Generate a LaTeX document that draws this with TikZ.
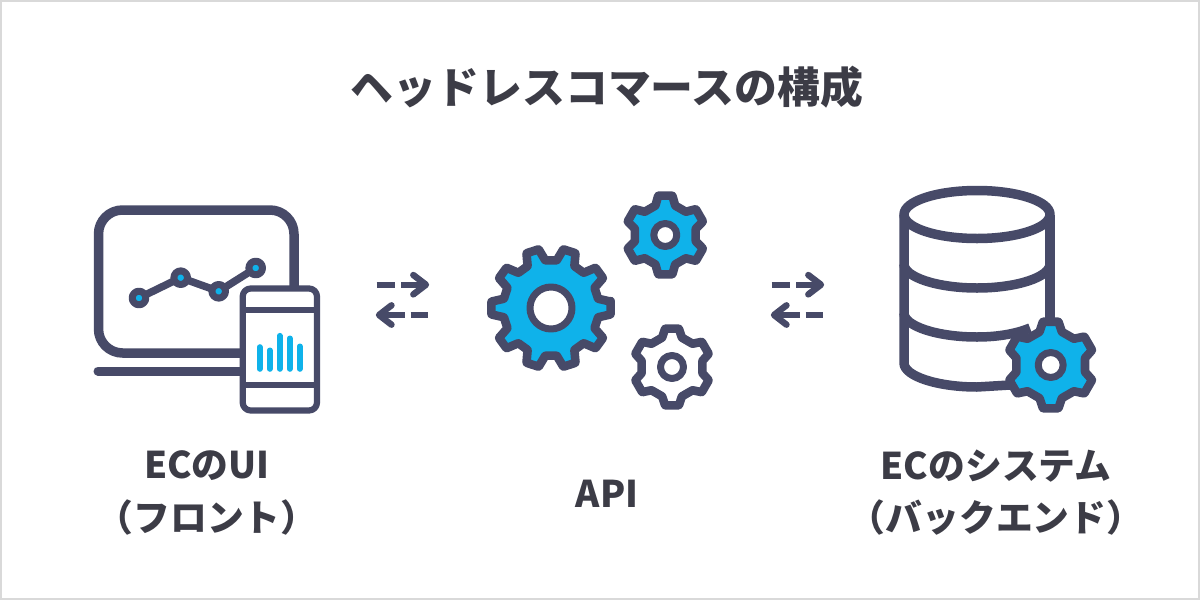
\documentclass[tikz,border=0pt]{standalone}
\usepackage{fontspec}
\newfontfamily\cjk{Noto Sans CJK JP}
\definecolor{icondark}{HTML}{474A68}
\definecolor{iconblue}{HTML}{0FB2EA}
\definecolor{textdark}{HTML}{3C3C46}
\tikzset{
  icon/.style={draw=icondark,line join=round},
  bar/.style={draw=iconblue,line width=5.6pt,line cap=round},
  label/.style={font=\cjk\bfseries\fontsize{36.8}{36.8}\selectfont,text=textdark,inner sep=0pt},
  dashpart/.style={draw=icondark,line width=6pt},
  headpart/.style={draw=icondark,line width=6.4pt,line cap=round,line join=round},
}
% centre x, centre y, teeth, first tooth, outer r, root r, hole r, fill
\newcommand{\drawgear}[8]{
  \begin{scope}[shift={(#1,#2)}]
    \pgfmathsetmacro{\gstep}{360/#3}
    \pgfmathsetmacro{\gtip}{0.17*\gstep}
    \pgfmathsetmacro{\groot}{0.31*\gstep}
    \pgfmathtruncatemacro{\glast}{#3-1}
    \draw[icon,line width=8.6pt,fill=#8,rounded corners=0.5pt] ({#4-\gtip}:#5)
      \foreach \k in {0,...,\glast}{
        -- ({#4+\k*\gstep+\gtip}:#5) -- ({#4+\k*\gstep+\groot}:#6)
        -- ({#4+(\k+1)*\gstep-\groot}:#6) -- ({#4+(\k+1)*\gstep-\gtip}:#5)
      } -- cycle;
    \draw[icon,line width=7pt,fill=white] (0,0) circle (#7);
  \end{scope}
}
\begin{document}
\begin{tikzpicture}[x=1pt,y=-1pt]
  \useasboundingbox (0,0) rectangle (1200,600);
  \fill[white] (0,0) rectangle (1200,600);
  \draw[draw=black!15,line width=2pt] (1,1) rectangle (1199,599);
  % Textos
  \node[label,font=\cjk\bfseries\fontsize{42.9}{42.9}\selectfont] (title) at (607,87) {ヘッドレスコマースの構成};
  \node[label] (frontname) at (207,466) {ECのUI};
  \node[label] (frontsub) at (207,518) {（フロント）};
  \node[label] (apiname) at (607,494) {API};
  \node[label] (backname) at (996,466) {ECのシステム};
  \node[label] (backsub) at (996,518) {（バックエンド）};
  % Pantalla
  \draw[icon,line width=9.5pt,rounded corners=24pt] (98.5,210) rectangle (294,353);
  \draw[icon,line width=9pt,line cap=round] (98,371) -- (243,371);
  \draw[icon,line width=7.5pt] (139,298) -- (180.7,277.7) -- (218.7,291.3) -- (255.7,268);
  \foreach \px/\py in {139/298,180.7/277.7,218.7/291.3,255.7/268}
    \draw[icon,line width=7pt,fill=iconblue] (\px,\py) circle (6.8);
  % Movil
  \draw[icon,line width=6.2pt,fill=white,rounded corners=8pt] (242.7,288.5) rectangle (317,410.5);
  \draw[icon,line width=6.2pt] (242.7,310) -- (317,310);
  \draw[icon,line width=6.2pt] (242.7,385.3) -- (317,385.3);
  \foreach \bx/\by in {259.7/347,269.7/350.3,279.7/335.7,289.7/338.3,299.7/346.3}
    \draw[bar] (\bx,\by) -- (\bx,369);
  % Flechas
  \foreach \dx in {0,395}{
    \draw[dashpart] (376.7+\dx,284.7) -- (395+\dx,284.7);
    \draw[dashpart] (401+\dx,284.7) -- (425+\dx,284.7);
    \draw[headpart] (413.3+\dx,275) -- (426+\dx,284.7) -- (413.3+\dx,294.4);
    \draw[dashpart] (380+\dx,315) -- (405+\dx,315);
    \draw[dashpart] (410.7+\dx,315) -- (428.3+\dx,315);
    \draw[headpart] (391.5+\dx,305.3) -- (379+\dx,315) -- (391.5+\dx,324.7);
  }
  % Engranajes
  \drawgear{551}{308}{10}{0}{60}{48}{21}{iconblue}
  \drawgear{665.3}{235}{6}{90}{40}{31}{11.5}{iconblue}
  \drawgear{672}{367}{6}{90}{39}{31}{11.5}{white}
  % Base de datos
  \draw[icon,line width=9.5pt] (977,214.5) ellipse [x radius=73,y radius=24];
  \draw[icon,line width=9.5pt] (904,214.5) -- (904,363) .. controls (904,376) and (937,387) .. (977,387) -- (1010,385);
  \draw[icon,line width=9.5pt] (1050,214.5) -- (1050,325);
  \draw[icon,line width=9.5pt] (904,264) .. controls (904,277) and (937,288) .. (977,288) .. controls (1017,288) and (1050,277) .. (1050,264);
  \draw[icon,line width=9.5pt] (904,313) .. controls (904,326) and (937,337) .. (977,337) .. controls (1000,337) and (1018,333) .. (1030,328);
  \drawgear{1050.7}{365}{6}{90}{44}{35}{12.5}{iconblue}
\end{tikzpicture}
\end{document}
